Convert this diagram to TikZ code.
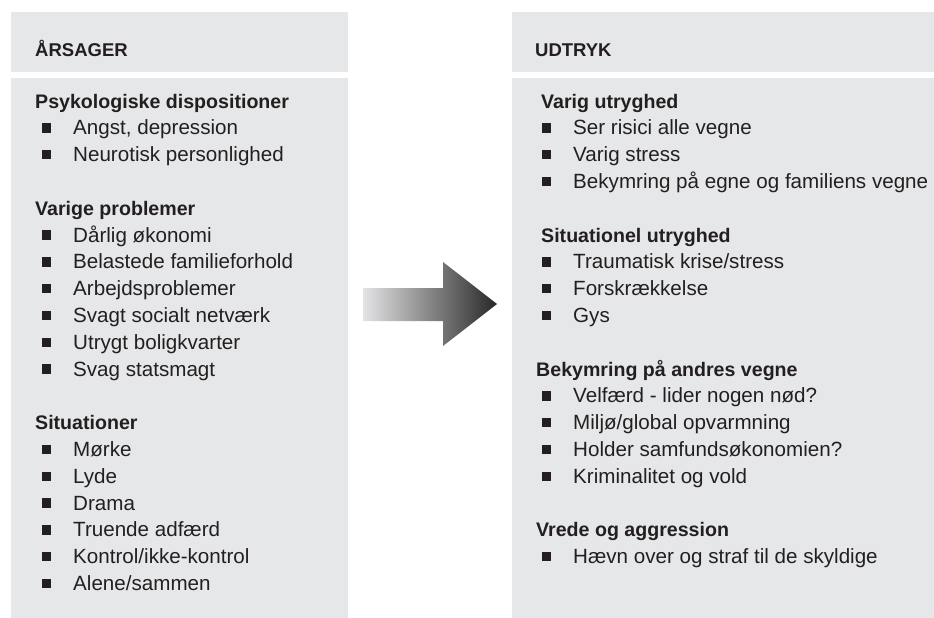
\documentclass[tikz,border=0pt]{standalone}
\usepackage{fontspec}
\setmainfont{Liberation Sans}
\definecolor{panelgray}{RGB}{230,231,232}
\definecolor{ink}{RGB}{35,31,32}
\newcommand\myitem[4]{%
  \node[bul] (#1b) at ({#2+46.5},{101+#3*26.8}) {};
  \node[itemtext] (#1) at ({#2+73},{108+#3*26.8}) {#4};
}
\newcommand\myhead[4]{%
  \node[headtext] (#1) at ({#2},{108+#3*26.8}) {#4};
}
\begin{document}
\begin{tikzpicture}[x=1pt,y=-1pt,
  panel/.style={fill=panelgray,draw=none,inner sep=0pt,anchor=north west},
  bul/.style={fill=ink,draw=none,inner sep=0pt,minimum size=9.4pt,shape=rectangle},
  itemtext/.style={anchor=base west,inner sep=0pt,text=ink,font=\fontsize{20.6}{24}\selectfont},
  headtext/.style={anchor=base west,inner sep=0pt,text=ink,font=\fontsize{19.6}{23}\selectfont\bfseries},
  titletext/.style={anchor=base west,inner sep=0pt,text=ink,font=\fontsize{18.5}{22}\selectfont\bfseries}]
\useasboundingbox (0,0) rectangle (934,618);
% panels
\node[panel,minimum width=337pt,minimum height=60pt] (lhead) at (11,12) {};
\node[panel,minimum width=337pt,minimum height=540pt] (lbody) at (11,78) {};
\node[panel,minimum width=422pt,minimum height=60pt] (rhead) at (512,12) {};
\node[panel,minimum width=422pt,minimum height=540pt] (rbody) at (512,78) {};
% titles
\node[titletext] (ltitle) at (35,57) {ÅRSAGER};
\node[titletext] (rtitle) at (535,57) {UDTRYK};
% left column
\myhead{h1}{35}{0}{Psykologiske dispositioner}
\myitem{l1}{0}{1}{Angst, depression}
\myitem{l2}{0}{2}{Neurotisk personlighed}
\myhead{h2}{35}{4}{Varige problemer}
\myitem{l3}{0}{5}{Dårlig økonomi}
\myitem{l4}{0}{6}{Belastede familieforhold}
\myitem{l5}{0}{7}{Arbejdsproblemer}
\myitem{l6}{0}{8}{Svagt socialt netværk}
\myitem{l7}{0}{9}{Utrygt boligkvarter}
\myitem{l8}{0}{10}{Svag statsmagt}
\myhead{h3}{35}{12}{Situationer}
\myitem{l9}{0}{13}{Mørke}
\myitem{l10}{0}{14}{Lyde}
\myitem{l11}{0}{15}{Drama}
\myitem{l12}{0}{16}{Truende adfærd}
\myitem{l13}{0}{17}{Kontrol/ikke-kontrol}
\myitem{l14}{0}{18}{Alene/sammen}
% right column
\myhead{h4}{541}{0}{Varig utryghed}
\myitem{r1}{500}{1}{Ser risici alle vegne}
\myitem{r2}{500}{2}{Varig stress}
\myitem{r3}{500}{3}{Bekymring på egne og familiens vegne}
\myhead{h5}{541}{5}{Situationel utryghed}
\myitem{r4}{500}{6}{Traumatisk krise/stress}
\myitem{r5}{500}{7}{Forskrækkelse}
\myitem{r6}{500}{8}{Gys}
\myhead{h6}{536}{10}{Bekymring på andres vegne}
\myitem{r7}{500}{11}{Velfærd - lider nogen nød?}
\myitem{r8}{500}{12}{Miljø/global opvarmning}
\myitem{r9}{500}{13}{Holder samfundsøkonomien?}
\myitem{r10}{500}{14}{Kriminalitet og vold}
\myhead{h7}{536}{16}{Vrede og aggression}
\myitem{r11}{500}{17}{Hævn over og straf til de skyldige}
% arrow
\shade[left color={rgb,255:red,228;green,228;blue,230},right color={rgb,255:red,40;green,40;blue,40},shading angle=90]
  (363,288) -- (443,288) -- (443,262) -- (497,304) -- (443,346) -- (443,321) -- (363,321) -- cycle;
\end{tikzpicture}
\end{document}
